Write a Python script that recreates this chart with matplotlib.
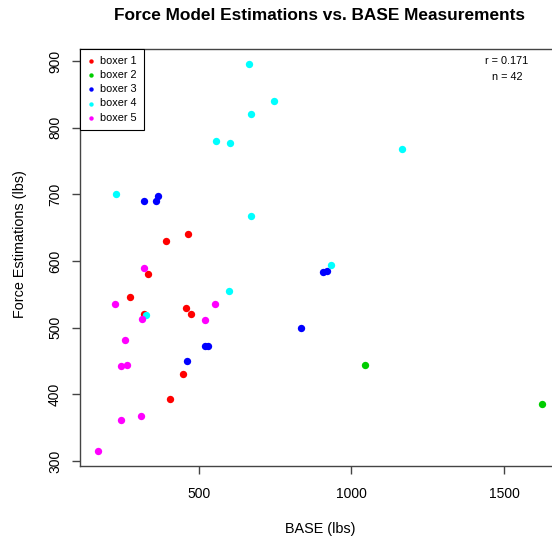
import matplotlib
matplotlib.use("Agg")
import matplotlib.pyplot as plt

plt.rcParams['font.family'] = ['Liberation Sans', 'DejaVu Sans']

# values (BASE lbs, force estimation lbs)
boxer1_x = [464.7, 392.8, 335, 274, 460, 474.5, 320, 450, 408]
boxer1_y = [640, 630.5, 580.5, 545.5, 529.5, 520.5, 520, 430, 393.5]
boxer2_x = [1045, 1625]
boxer2_y = [444, 385.5]
boxer3_x = [322, 360, 366.6, 906, 920, 834, 521, 530, 462.4]
boxer3_y = [690.5, 690.5, 697.5, 583, 585.5, 500, 472.5, 472.5, 450.5]
boxer4_x = [664, 748, 670.6, 558, 604, 230, 671.5, 1166, 932, 598.7, 327.5]
boxer4_y = [895, 840, 820.5, 779.5, 776.5, 700.5, 667, 767.5, 594, 555.5, 519]
boxer5_x = [321, 225, 555, 315.5, 521, 260, 247, 265, 311, 247, 170]
boxer5_y = [590, 536, 535, 513.5, 511, 481.5, 442.5, 444, 367.5, 361.5, 315.5]

labels = ['boxer 1', 'boxer 2', 'boxer 3', 'boxer 4', 'boxer 5']
colors = ['#FF0000', '#00CD00', '#0000FF', '#00FFFF', '#FF00FF']
r_text = 'r = 0.171'
n_text = 'n = 42'

xs = [boxer1_x, boxer2_x, boxer3_x, boxer4_x, boxer5_x]
ys = [boxer1_y, boxer2_y, boxer3_y, boxer4_y, boxer5_y]

fig = plt.figure(figsize=(5.52, 5.4), dpi=100)
# plot region runs a bit past the right edge, like the reference
ax = fig.add_axes([80 / 552, 1 - 466 / 540, 480 / 552, 417 / 540])

for x, y, c, lab in zip(xs, ys, colors, labels):
    ax.scatter(x, y, s=28, color=c, label=lab, linewidths=0)

# R style 4% padding
allx = sum(xs, [])
ally = sum(ys, [])
dx = (max(allx) - min(allx)) * 0.04
dy = (max(ally) - min(ally)) * 0.04
ax.set_xlim(min(allx) - dx, max(allx) + dx)
ax.set_ylim(min(ally) - dy, max(ally) + dy)

ax.set_xticks([500, 1000, 1500])
ax.set_yticks([300, 400, 500, 600, 700, 800, 900])
for s in ax.spines.values():
    s.set_color('#444444')
    s.set_linewidth(1.0)
ax.tick_params(colors='#444444', labelcolor='black', length=6, width=1.0,
               labelsize=10)
ax.tick_params(axis='x', pad=9)
ax.tick_params(axis='y', pad=7)
for t in ax.get_yticklabels():
    t.set_rotation(90)
    t.set_va('center')

fig.text(320 / 552, 1 - 529 / 540, 'BASE (lbs)', ha='center', va='center',
         fontsize=10.4)
fig.text(20 / 552, 1 - 244 / 540, 'Force Estimations (lbs)', rotation=90,
         ha='center', va='center', fontsize=10.4)
fig.text(320 / 552, 1 - 15 / 540, 'Force Model Estimations vs. BASE Measurements',
         ha='center', va='center', fontsize=12.4, fontweight='bold')

fig.text(507 / 552, 1 - 61 / 540, r_text, ha='center', va='center', fontsize=7.8)
fig.text(507 / 552, 1 - 77 / 540, n_text, ha='center', va='center', fontsize=7.8)

leg = ax.legend(loc='upper left', borderaxespad=0, fancybox=False,
                fontsize=7.8, markerscale=0.6, handletextpad=0.4,
                labelspacing=0.38, borderpad=0.65, handlelength=0.8)
leg.get_frame().set_edgecolor('black')
leg.get_frame().set_linewidth(0.8)
leg.get_frame().set_alpha(1)

fig.savefig('out.png', dpi=100)
